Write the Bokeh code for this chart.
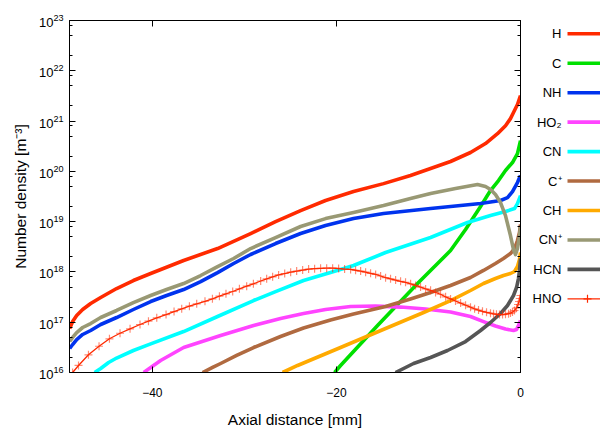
from bokeh.plotting import figure
from bokeh.layouts import row
from bokeh.models import Range1d, FixedTicker, LinearAxis, LogAxis, CustomJSTickFormatter
from bokeh.embed import file_html
from bokeh.resources import INLINE
from bokeh.core.properties import value

FONT = "Liberation Sans"

# ---------------- data (axial distance in mm, number density in m^-3) ----------------
H_x = [-48.98, -48.66, -48.22, -47.57, -46.70, -45.61, -43.88, -42.06, -40.18, -36.60, -32.91, -29.32, -26.61,
       -23.89, -21.18, -18.14, -14.88, -11.95, -9.77, -7.60, -5.43, -3.80, -2.50, -1.63, -1.09, -0.76, -0.33, 0.0]
H_n = [7.5e16, 1.03e17, 1.36e17, 1.79e17, 2.35e17, 3.1e17, 4.68e17, 6.75e17, 9.3e17, 1.69e18, 2.92e18, 5.8e18, 1.0e19,
       1.66e19, 2.63e19, 3.96e19, 5.7e19, 8.3e19, 1.14e20, 1.57e20, 2.37e20, 3.57e20, 5.6e20, 8.1e20, 1.12e21, 1.48e21, 2.13e21, 3.2e21]

C_x = [-20.20, -19.55, -15.53, -11.08, -7.60, -5.97, -4.34, -3.26, -2.39, -1.63, -0.87, -0.33, 0.0]
C_n = [1.0e16, 1.38e16, 8.6e16, 6.15e17, 2.66e18, 6.97e18, 2.0e19, 4.15e19, 6.56e19, 1.04e20, 1.5e20, 2.26e20, 4.1e20]

NH_x = [-48.98, -48.66, -48.22, -47.57, -46.70, -45.61, -43.88, -42.06, -40.18, -38.45, -36.60, -34.75, -32.91, -31.17,
        -29.32, -26.61, -23.89, -21.18, -18.14, -14.88, -9.77, -4.34, -2.17, -1.41, -0.87, -0.33, 0.0]
NH_n = [3.0e16, 3.6e16, 4.53e16, 5.7e16, 6.84e16, 9.0e16, 1.24e17, 1.79e17, 2.58e17, 3.4e17, 4.47e17, 6.44e17, 9.7e17, 1.47e18,
        2.22e18, 3.67e18, 5.8e18, 8.4e18, 1.15e19, 1.45e19, 1.82e19, 2.29e19, 2.63e19, 3.0e19, 3.96e19, 5.98e19, 8.26e19]

HO2_x = [-40.94, -39.10, -36.60, -32.58, -29.00, -26.07, -23.57, -21.18, -18.46, -15.75, -13.03, -10.32, -7.60,
         -5.43, -4.02, -2.72, -1.63, -0.76, -0.43, -0.22, 0.0]
HO2_n = [1.0e16, 1.73e16, 3.14e16, 5.44e16, 8.6e16, 1.19e17, 1.49e17, 1.79e17, 2.05e17, 2.1e17, 2.0e17, 1.83e17, 1.6e17,
         1.3e17, 1.03e17, 8.4e16, 7.3e16, 6.84e16, 7.16e16, 8.6e16, 1.08e17]

CN_x = [-46.27, -45.61, -44.75, -43.88, -42.06, -40.18, -36.60, -32.91, -29.00, -26.61, -23.57, -20.64, -18.14,
        -14.66, -9.77, -5.76, -3.26, -1.63, -0.65, -0.33, 0.0]
CN_n = [1.0e16, 1.2e16, 1.58e16, 1.94e16, 2.74e16, 3.72e16, 6.53e16, 1.3e17, 2.7e17, 4.07e17, 6.75e17, 9.73e17, 1.34e18,
        2.43e18, 4.83e18, 9.6e18, 1.32e19, 1.59e19, 1.82e19, 2.29e19, 3.3e19]

Cp_x = [-34.54, -33.45, -32.58, -30.84, -29.00, -26.07, -23.57, -20.64, -18.14, -14.66, -11.95, -9.77, -7.60,
        -5.43, -4.02, -2.72, -1.85, -1.09, -0.65, -0.33, -0.11, 0.0]
Cp_n = [1.0e16, 1.26e16, 1.51e16, 2.18e16, 3.14e16, 5.2e16, 7.67e16, 1.11e17, 1.46e17, 2.05e17, 2.89e17, 3.89e17, 5.37e17,
        7.74e17, 1.07e18, 1.47e18, 1.85e18, 2.32e18, 2.92e18, 4.21e18, 6.07e18, 8.75e18]

CH_x = [-25.85, -24.22, -19.55, -14.66, -10.53, -7.60, -5.43, -4.02, -2.72, -1.85, -1.09, -0.65, -0.33, -0.11, 0.0]
CH_n = [1.0e16, 1.38e16, 3.14e16, 7.5e16, 1.56e17, 2.7e17, 4.27e17, 5.88e17, 7.39e17, 8.48e17, 9.3e17, 1.02e18, 1.28e18, 1.77e18, 2.43e18]

CNp_x = [-48.98, -48.66, -48.22, -47.57, -46.70, -45.61, -43.88, -42.06, -40.18, -38.45, -36.60, -34.75, -32.91, -31.17,
         -29.32, -26.61, -23.89, -21.18, -18.14, -14.88, -11.95, -9.77, -7.06, -4.67, -3.80, -3.26, -2.72, -2.17, -1.63,
         -1.09, -0.76, -0.54, -0.33, -0.11, 0.0]
CNp_n = [4.13e16, 4.97e16, 6.24e16, 7.85e16, 9.42e16, 1.24e17, 1.71e17, 2.46e17, 3.4e17, 4.47e17, 5.88e17, 8.48e17, 1.28e18, 1.85e18,
         2.92e18, 4.83e18, 8.0e18, 1.15e19, 1.52e19, 2.09e19, 2.88e19, 3.62e19, 4.55e19, 5.47e19, 4.99e19, 4.35e19, 3.46e19, 2.4e19, 1.32e19,
         5.3e18, 2.79e18, 2.22e18, 2.92e18, 5.06e18, 8.0e18]

HCN_x = [-13.58, -11.62, -9.77, -7.93, -5.97, -4.34, -3.26, -2.17, -1.41, -0.76, -0.43, -0.22, -0.11, 0.0]
HCN_n = [1.0e16, 1.51e16, 1.99e16, 2.74e16, 4.13e16, 6.84e16, 9.86e16, 1.49e17, 2.15e17, 3.4e17, 4.9e17, 7.39e17, 1.07e18, 1.85e18]

HNO_x = [-48.66, -48.02, -46.94, -45.79, -44.66, -43.51, -42.42, -41.34, -40.42, -39.52, -38.51,
         -37.64, -36.81, -35.97, -35.18, -34.28, -33.47, -32.71, -32.00, -31.27, -30.54, -29.75,
         -29.02, -28.23, -27.58, -26.93, -26.28, -25.62, -24.97, -24.32, -23.67, -23.02, -22.37,
         -21.72, -21.06, -20.41, -19.76, -19.11, -18.46, -17.92, -17.37, -16.83, -16.29, -15.74,
         -15.20, -14.66, -14.12, -13.57, -13.03, -12.49, -11.94, -11.40, -10.86, -10.31, -9.77,
         -9.23, -8.69, -8.14, -7.60, -7.06, -6.51, -5.97, -5.43, -4.99, -4.56, -4.13, -3.69,
         -3.26, -2.93, -2.61, -2.28, -1.95, -1.63, -1.30, -1.09, -0.87, -0.65, -0.43, -0.27,
         -0.16, -0.08, 0.0]
HNO_n = [1.0e16, 1.38e16, 2.25e16, 3.33e16, 4.68e16, 6.04e16, 7.39e16, 9.0e16, 1.05e17, 1.22e17, 1.42e17,
         1.63e17, 1.85e17, 2.08e17, 2.32e17, 2.61e17, 2.92e17, 3.29e17, 3.67e17, 4.08e17, 4.61e17, 5.2e17,
         5.8e17, 6.6e17, 7.3e17, 8.0e17, 8.7e17, 9.3e17, 9.9e17, 1.04e18, 1.09e18, 1.14e18, 1.16e18,
         1.18e18, 1.19e18, 1.19e18, 1.17e18, 1.14e18, 1.12e18, 1.08e18, 1.04e18, 9.9e17, 9.4e17, 8.9e17,
         8.3e17, 7.7e17, 7.3e17, 6.9e17, 6.5e17, 6.2e17, 5.8e17, 5.4e17, 5.0e17, 4.6e17, 4.3e17,
         3.9e17, 3.6e17, 3.2e17, 2.9e17, 2.64e17, 2.4e17, 2.18e17, 1.99e17, 1.85e17, 1.74e17, 1.65e17, 1.57e17,
         1.51e17, 1.47e17, 1.44e17, 1.42e17, 1.42e17, 1.44e17, 1.48e17, 1.52e17, 1.6e17, 1.71e17, 1.92e17, 2.25e17,
         2.58e17, 2.96e17, 3.4e17]

species = ["H", "C", "NH", "HO₂", "CN", "C⁺", "CH", "CN⁺", "HCN", "HNO"]
series_x = [H_x, C_x, NH_x, HO2_x, CN_x, Cp_x, CH_x, CNp_x, HCN_x, HNO_x]
series_n = [H_n, C_n, NH_n, HO2_n, CN_n, Cp_n, CH_n, CNp_n, HCN_n, HNO_n]
colors = ["#ff2a00", "#00e000", "#0033ee", "#ff44ff", "#00ffff", "#b06a40", "#ffaa00", "#999974", "#555555", "#ff2a00"]

x_ticks = [-40, -20, 0]
y_major = [1e16, 1e17, 1e18, 1e19, 1e20, 1e21, 1e22, 1e23]
y_minor = [m * d for d in y_major[:-1] for m in (2, 5, 8)]
Y_MIN, Y_MAX = 1e16, 1e23

BORDER_TOP = 20
BORDER_BOTTOM = 61
FIG_H = 433

# ---------------- main plot ----------------
p = figure(width=528, height=FIG_H, x_range=Range1d(-49, 0), y_range=Range1d(Y_MIN, Y_MAX),
           y_axis_type="log", output_backend="svg", toolbar_location=None,
           min_border_left=69, min_border_right=8, min_border_top=BORDER_TOP, min_border_bottom=BORDER_BOTTOM)
p.grid.visible = False
p.outline_line_color = "black"
p.outline_line_width = 1
p.background_fill_color = "white"
p.border_fill_color = "white"

for name, xs, ns, col in zip(species, series_x, series_n, colors):
    if name == "HNO":
        p.line(xs, ns, line_color=col, line_width=1.3)
        p.scatter(xs, ns, marker="cross", size=8, line_color=col, line_width=1.2, alpha=0.55)
    else:
        p.line(xs, ns, line_color=col, line_width=3.6, line_join="round")

def style_axis(ax, labels=True):
    ax.axis_line_color = "black"
    ax.major_tick_line_color = "black"
    ax.minor_tick_line_color = "black"
    ax.major_tick_in = 6
    ax.major_tick_out = 0
    ax.minor_tick_in = 3
    ax.minor_tick_out = 0
    if labels:
        ax.major_label_text_font = FONT
        ax.major_label_text_font_size = "12px"
        ax.major_label_text_color = "black"
        ax.axis_label_text_font = FONT
        ax.axis_label_text_font_size = "15.5px"
        ax.axis_label_text_font_style = "normal"
        ax.axis_label_text_color = "black"
    else:
        ax.formatter = CustomJSTickFormatter(code="return ''")
        ax.major_label_text_font_size = "1px"
        ax.major_label_standoff = 0

xa = p.xaxis[0]
xa.ticker = FixedTicker(ticks=x_ticks)
xa.axis_label = "Axial distance [mm]"
style_axis(xa)
xa.major_label_standoff = 15
xa.axis_label_standoff = 11

ya = p.yaxis[0]
ya.ticker = FixedTicker(ticks=y_major, minor_ticks=y_minor)
ya.axis_label = "Number density [m⁻³]"
style_axis(ya)
ya.major_label_text_font_size = "13px"
ya.major_label_standoff = 6
ya.axis_label_standoff = 7

top = LinearAxis(ticker=FixedTicker(ticks=x_ticks))
style_axis(top, labels=False)
p.add_layout(top, "above")

right = LogAxis(ticker=FixedTicker(ticks=y_major, minor_ticks=y_minor))
style_axis(right, labels=False)
p.add_layout(right, "right")

# ---------------- legend panel (page pixel coordinates, frame aligned with plot frame) ----------------
lg = figure(width=72, height=FIG_H, x_range=Range1d(528, 600),
            y_range=Range1d(FIG_H - BORDER_BOTTOM, BORDER_TOP),
            output_backend="svg", toolbar_location=None,
            min_border_left=0, min_border_right=0, min_border_top=BORDER_TOP, min_border_bottom=BORDER_BOTTOM,
            x_axis_location=None, y_axis_location=None)
lg.grid.visible = False
lg.outline_line_color = None
lg.background_fill_color = "white"
lg.border_fill_color = "white"

leg_y = [33.3 + 29.45 * i for i in range(len(species))]
lg.text(x=[561] * len(species), y=leg_y, text=species, text_align="right", text_baseline="middle",
        text_font=value(FONT), text_font_size="13px", text_color="black")
for name, yy, col in zip(species, leg_y, colors):
    if name == "HNO":
        lg.segment(x0=[567], y0=[yy], x1=[600], y1=[yy], line_color=col, line_width=1.3)
        lg.scatter([587], [yy], marker="cross", size=8, line_color=col, line_width=1.2)
    else:
        lg.segment(x0=[567], y0=[yy], x1=[600], y1=[yy], line_color=col, line_width=3.6)

layout = row(p, lg)
open("out.html", "w").write(file_html(layout, INLINE))
